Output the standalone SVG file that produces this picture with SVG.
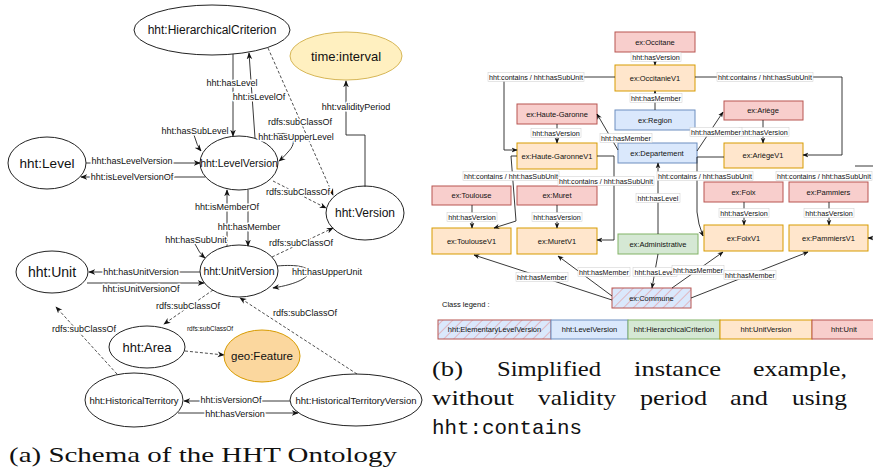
<svg xmlns="http://www.w3.org/2000/svg" width="873" height="472" viewBox="0 0 873 472">
<defs>
<style>
.ne{fill:#fff;stroke:#222;stroke-width:1}
.t{font-family:"Liberation Sans",Arial,sans-serif;text-anchor:middle;dominant-baseline:central;fill:#111}
.e{fill:none;stroke:#222;stroke-width:0.9}
.d{stroke-dasharray:3 2;stroke-width:0.8}
.al{font-size:9px;stroke:#fff;stroke-width:3;stroke-linejoin:round;paint-order:stroke}
.bl{font-size:7.2px}
.bn{font-size:7.5px}
.lb{fill:#fff;stroke:#cccccc;stroke-width:0.5}
.red{fill:#f8cecc;stroke:#b85450;stroke-width:1}
.org{fill:#ffe6cc;stroke:#d79b00;stroke-width:1}
.blu{fill:#dae8fc;stroke:#6c8ebf;stroke-width:1}
.grn{fill:#d5e8d4;stroke:#82b366;stroke-width:1}
.hat{fill:url(#hatch);stroke:#b85450;stroke-width:1}
.cap{font-family:"Liberation Serif","Times New Roman",serif;font-size:22px;fill:#111}
</style>
<marker id="arr" viewBox="0 0 10 10" refX="9" refY="5" markerWidth="7" markerHeight="7" orient="auto" markerUnits="userSpaceOnUse">
<path d="M0,1 L10,5 L0,9 L3,5 z" fill="#111"/>
</marker>
<marker id="arrs" viewBox="0 0 10 10" refX="9" refY="5" markerWidth="6" markerHeight="6" orient="auto" markerUnits="userSpaceOnUse">
<path d="M0,1 L10,5 L0,9 L3,5 z" fill="#111"/>
</marker>
<pattern id="hatch" patternUnits="userSpaceOnUse" width="7" height="7" patternTransform="rotate(45)">
<rect width="7" height="7" fill="#dae8fc"/>
<line x1="0" y1="0" x2="0" y2="7" stroke="#ea6b66" stroke-width="0.8"/>
</pattern>
</defs>
<rect width="873" height="472" fill="#fff"/>

<!-- (a) nodes -->
<g id="n-hc"><ellipse class="ne" cx="212" cy="30" rx="78" ry="25"/><text class="t" x="212" y="30" font-size="12">hht:HierarchicalCriterion</text></g>
<g id="n-time"><ellipse cx="346" cy="56" rx="56" ry="24" fill="#fff0c0" stroke="#d6b656"/><text class="t" x="346" y="56" font-size="13">time:interval</text></g>
<g id="n-level"><ellipse class="ne" cx="47" cy="163" rx="39" ry="26"/><text class="t" x="47" y="163" font-size="13.5">hht:Level</text></g>
<g id="n-lv"><ellipse class="ne" cx="239" cy="163" rx="39" ry="27"/><text class="t" x="239" y="163" font-size="10.5">hht:LevelVersion</text></g>
<g id="n-version"><ellipse class="ne" cx="365" cy="213" rx="39" ry="27"/><text class="t" x="365" y="213" font-size="12">hht:Version</text></g>
<g id="n-unit"><ellipse class="ne" cx="52" cy="272" rx="36" ry="21"/><text class="t" x="52" y="272" font-size="14">hht:Unit</text></g>
<g id="n-uv"><ellipse class="ne" cx="239" cy="271" rx="39" ry="26"/><text class="t" x="239" y="271" font-size="10.5">hht:UnitVersion</text></g>
<g id="n-area"><ellipse class="ne" cx="147" cy="347" rx="38" ry="21"/><text class="t" x="147" y="347" font-size="13">hht:Area</text></g>
<g id="n-geo"><ellipse cx="262" cy="356" rx="38" ry="26" fill="#fbd79e" stroke="#d79b00"/><text class="t" x="262" y="356" font-size="11.5">geo:Feature</text></g>
<g id="n-ht"><ellipse class="ne" cx="134" cy="400" rx="49" ry="27"/><text class="t" x="134" y="400" font-size="9.5">hht:HistoricalTerritory</text></g>
<g id="n-htv"><ellipse class="ne" cx="356" cy="400" rx="66" ry="26"/><text class="t" x="356" y="400" font-size="9.5">hht:HistoricalTerritoryVersion</text></g>

<!-- (b) nodes -->
<g id="b-occitane"><rect class="red" x="615" y="32" width="80" height="20"/><text class="t bn" x="655" y="42">ex:Occitane</text></g>
<g id="b-occitaniev1"><rect class="org" x="615" y="65" width="80" height="26"/><text class="t bn" x="655" y="78">ex:OccitanieV1</text></g>
<g id="b-region"><rect class="blu" x="615" y="110" width="80" height="20"/><text class="t bn" x="655" y="120">ex:Region</text></g>
<g id="b-departement"><rect class="blu" x="618" y="143" width="79" height="20"/><text class="t bn" x="657" y="153">ex:Departement</text></g>
<g id="b-hg"><rect class="red" x="517" y="104" width="80" height="20"/><text class="t bn" x="557" y="114">ex:Haute-Garonne</text></g>
<g id="b-hgv1"><rect class="org" x="517" y="143" width="80" height="26"/><text class="t bn" x="557" y="156">ex:Haute-GaronneV1</text></g>
<g id="b-ariege"><rect class="red" x="724" y="101" width="79" height="19"/><text class="t bn" x="763" y="110.5">ex:Ariège</text></g>
<g id="b-ariegev1"><rect class="org" x="724" y="143" width="79" height="25"/><text class="t bn" x="763" y="155.5">ex:AriègeV1</text></g>
<g id="b-toulouse"><rect class="red" x="432" y="186" width="79" height="19"/><text class="t bn" x="471.5" y="195.5">ex:Toulouse</text></g>
<g id="b-toulousev1"><rect class="org" x="432" y="228" width="79" height="26"/><text class="t bn" x="471.5" y="241">ex:ToulouseV1</text></g>
<g id="b-muret"><rect class="red" x="517" y="186" width="80" height="19"/><text class="t bn" x="557" y="195.5">ex:Muret</text></g>
<g id="b-muretv1"><rect class="org" x="517" y="228" width="80" height="26"/><text class="t bn" x="557" y="241">ex:MuretV1</text></g>
<g id="b-admin"><rect class="grn" x="618" y="234" width="80" height="20"/><text class="t bn" x="658" y="244">ex:Administrative</text></g>
<g id="b-foix"><rect class="red" x="704" y="182" width="79" height="20"/><text class="t bn" x="743.5" y="192">ex:Foix</text></g>
<g id="b-foixv1"><rect class="org" x="704" y="225" width="79" height="26"/><text class="t bn" x="743.5" y="238">ex:FoixV1</text></g>
<g id="b-pammiers"><rect class="red" x="789" y="182" width="79" height="20"/><text class="t bn" x="828.5" y="192">ex:Pammiers</text></g>
<g id="b-pammiersv1"><rect class="org" x="789" y="225" width="79" height="26"/><text class="t bn" x="828.5" y="238">ex:PammiersV1</text></g>
<g id="b-commune"><rect class="hat" x="612" y="288" width="79" height="20"/><text class="t bn" x="651.5" y="298">ex:Commune</text></g>

<!-- connectors -->
<g id="connectors">
<!-- (a) -->
<path class="e" d="M86 163 L200 163" marker-end="url(#arr)"/>
<path class="e" d="M205 177 L81 177" marker-end="url(#arr)"/>
<path class="e" d="M233 54 L233 136" marker-end="url(#arr)"/>
<path class="e" d="M255 138 L249 53" marker-end="url(#arr)"/>
<path class="e d" d="M268 48 L333 195" marker-end="url(#arr)"/>
<path class="e" d="M264 138 C292 126 300 140 288 152 Q284 157 279 161" marker-end="url(#arr)"/>
<path class="e" d="M194 135 Q197 146 201 151" marker-end="url(#arr)"/>
<path class="e d" d="M273 181 L326 208" marker-end="url(#arr)"/>
<path class="e" d="M248 190 L248 246" marker-end="url(#arr)"/>
<path class="e" d="M227 246 L227 190" marker-end="url(#arr)"/>
<path class="e" d="M195 244 Q199 253 205 258" marker-end="url(#arr)"/>
<path class="e d" d="M272 257 L333 228" marker-end="url(#arr)"/>
<path class="e" d="M277 266 C322 262 318 281 273 288" marker-end="url(#arr)"/>
<path class="e" d="M200 272 L89 272" marker-end="url(#arr)"/>
<path class="e" d="M87 283 L204 283" marker-end="url(#arr)"/>
<path class="e d" d="M213 290 L164 324" marker-end="url(#arr)"/>
<path class="e d" d="M185 351 L224 355" marker-end="url(#arr)"/>
<path class="e d" d="M117 374 L56 307" marker-end="url(#arr)"/>
<path class="e d" d="M357 374 L240 298" marker-end="url(#arr)"/>
<path class="e" d="M290 401 L184 401" marker-end="url(#arr)"/>
<path class="e" d="M178 413 L298 413" marker-end="url(#arr)"/>
<path class="e" d="M365 187 L365 135 L346 135 L346 81" marker-end="url(#arr)"/>
<g class="t al">
<text x="132" y="161">hht:hasLevelVersion</text>
<text x="132" y="177">hht:isLevelVersionOf</text>
<text x="232" y="83">hht:hasLevel</text>
<text x="259" y="97">hht:isLevelOf</text>
<text x="300" y="122">rdfs:subClassOf</text>
<text x="296" y="137">hht:hasUpperLevel</text>
<text x="195" y="131">hht:hasSubLevel</text>
<text x="298" y="192">rdfs:subClassOf</text>
<text x="227" y="207">hht:isMemberOf</text>
<text x="249" y="227">hht:hasMember</text>
<text x="196" y="240">hht:hasSubUnit</text>
<text x="301" y="243">rdfs:subClassOf</text>
<text x="327" y="272">hht:hasUpperUnit</text>
<text x="141" y="272">hht:hasUnitVersion</text>
<text x="141" y="289">hht:isUnitVersionOf</text>
<text x="188" y="306">rdfs:subClassOf</text>
<text x="210" y="328" font-size="6.5">rdfs:subClassOf</text>
<text x="84" y="329">rdfs:subClassOf</text>
<text x="305" y="313">rdfs:subClassOf</text>
<text x="231" y="400">hht:isVersionOf</text>
<text x="235" y="414">hht:hasVersion</text>
<text x="356" y="107">hht:validityPeriod</text>
</g>
<!-- (b) -->
<path class="e" d="M655 52 L655 65" marker-end="url(#arrs)"/>
<path class="e" d="M655 110 L655 91" marker-end="url(#arrs)"/>
<path class="e" d="M618 150 L597 114" marker-end="url(#arrs)"/>
<path class="e" d="M697 151 L723 112" marker-end="url(#arrs)"/>
<path class="e" d="M763 120 L763 143" marker-end="url(#arrs)"/>
<path class="e" d="M695 77 L842 77 L842 155 L803 155" marker-end="url(#arrs)"/>
<path class="e" d="M615 77 L504 77 L504 150 L517 150" marker-end="url(#arrs)"/>
<path class="e" d="M557 124 L557 143" marker-end="url(#arrs)"/>
<path class="e" d="M517 156 L511 156 L516 221 L494 228" marker-end="url(#arrs)"/>
<path class="e" d="M597 156 L614 156 L614 240 L597 240" marker-end="url(#arrs)"/>
<path class="e" d="M472 205 L472 228" marker-end="url(#arrs)"/>
<path class="e" d="M557 205 L557 228" marker-end="url(#arrs)"/>
<path class="e" d="M658 234 L658 163" marker-end="url(#arrs)"/>
<path class="e" d="M724 157 L697 157 L697 212 Q698 224 703 236" marker-end="url(#arrs)"/>
<path class="e" d="M744 202 L744 225" marker-end="url(#arrs)"/>
<path class="e" d="M829 202 L829 225" marker-end="url(#arrs)"/>
<path class="e" d="M855 166 L873 166"/>
<path class="e" d="M880 238 L868 238" marker-end="url(#arrs)"/>
<path class="e" d="M658 254 L652 288" marker-end="url(#arrs)"/>
<path class="e" d="M672 288 L723 252" marker-end="url(#arrs)"/>
<path class="e" d="M691 298 L808 252" marker-end="url(#arrs)"/>
<path class="e" d="M612 296 L558 256" marker-end="url(#arrs)"/>
<path class="e" d="M612 300 L474 255" marker-end="url(#arrs)"/>
<g id="blabels">
<rect class="lb" x="631" y="52.5" width="50" height="9"/><text class="t bl" x="656" y="57">hht:hasVersion</text>
<rect class="lb" x="630" y="93.5" width="52" height="9"/><text class="t bl" x="656" y="98">hht:hasMember</text>
<rect class="lb" x="600" y="133.5" width="52" height="9"/><text class="t bl" x="626" y="138">hht:hasMember</text>
<rect class="lb" x="739" y="127.5" width="50" height="9"/><text class="t bl" x="764" y="132">hht:hasVersion</text>
<rect class="lb" x="690" y="127.5" width="52" height="9"/><text class="t bl" x="716" y="132">hht:hasMember</text>
<rect class="lb" x="717" y="72.5" width="96" height="9"/><text class="t bl" x="765" y="77">hht:contains / hht:hasSubUnit</text>
<rect class="lb" x="488" y="72.5" width="96" height="9"/><text class="t bl" x="536" y="77">hht:contains / hht:hasSubUnit</text>
<rect class="lb" x="531" y="128.5" width="50" height="9"/><text class="t bl" x="556" y="133">hht:hasVersion</text>
<rect class="lb" x="463" y="171.5" width="96" height="9"/><text class="t bl" x="511" y="176">hht:contains / hht:hasSubUnit</text>
<rect class="lb" x="558" y="176.5" width="96" height="9"/><text class="t bl" x="606" y="181">hht:contains / hht:hasSubUnit</text>
<rect class="lb" x="447" y="212.5" width="50" height="9"/><text class="t bl" x="472" y="217">hht:hasVersion</text>
<rect class="lb" x="532" y="212.5" width="50" height="9"/><text class="t bl" x="557" y="217">hht:hasVersion</text>
<rect class="lb" x="636" y="193.5" width="44" height="9"/><text class="t bl" x="658" y="198">hht:hasLevel</text>
<rect class="lb" x="657" y="171.5" width="96" height="9"/><text class="t bl" x="705" y="176">hht:contains / hht:hasSubUnit</text>
<rect class="lb" x="776" y="171.5" width="96" height="9"/><text class="t bl" x="824" y="176">hht:contains / hht:hasSubUnit</text>
<rect class="lb" x="719" y="208.5" width="50" height="9"/><text class="t bl" x="744" y="213">hht:hasVersion</text>
<rect class="lb" x="804" y="208.5" width="50" height="9"/><text class="t bl" x="829" y="213">hht:hasVersion</text>
<rect class="lb" x="633" y="267.5" width="44" height="9"/><text class="t bl" x="655" y="272">hht:hasLevel</text>
<rect class="lb" x="672" y="265.5" width="52" height="9"/><text class="t bl" x="698" y="270">hht:hasMember</text>
<rect class="lb" x="724" y="270.5" width="52" height="9"/><text class="t bl" x="750" y="275">hht:hasMember</text>
<rect class="lb" x="578" y="267.5" width="52" height="9"/><text class="t bl" x="604" y="272">hht:hasMember</text>
<rect class="lb" x="516" y="272.5" width="52" height="9"/><text class="t bl" x="542" y="277">hht:hasMember</text>
</g>
</g>

<!-- legend -->
<g id="legend">
<text class="t bn" x="442" y="304" style="text-anchor:start">Class legend :</text>
<rect class="hat" x="438" y="320" width="113" height="19"/><text class="t bn" x="494.5" y="329.5">hht:ElementaryLevelVersion</text>
<rect class="blu" x="551" y="320" width="77" height="19"/><text class="t bn" x="589.5" y="329.5">hht:LevelVersion</text>
<rect class="grn" x="628" y="320" width="92" height="19"/><text class="t bn" x="674" y="329.5">hht:HierarchicalCriterion</text>
<rect class="org" x="720" y="320" width="92" height="19"/><text class="t bn" x="766" y="329.5">hht:UnitVersion</text>
<rect class="red" x="812" y="320" width="66" height="19"/><text class="t bn" x="844" y="329.5">hht:Unit</text>
</g>

<!-- captions -->
<g id="captions">
<text class="cap" x="9" y="462" textLength="388" lengthAdjust="spacingAndGlyphs">(a) Schema of the HHT Ontology</text>
<text class="cap" x="432" y="376" textLength="31" lengthAdjust="spacingAndGlyphs">(b)</text>
<text class="cap" x="497" y="376" textLength="104" lengthAdjust="spacingAndGlyphs">Simplified</text>
<text class="cap" x="634" y="376" textLength="87" lengthAdjust="spacingAndGlyphs">instance</text>
<text class="cap" x="753" y="376" textLength="94" lengthAdjust="spacingAndGlyphs">example,</text>
<text class="cap" x="432" y="405" textLength="82" lengthAdjust="spacingAndGlyphs">without</text>
<text class="cap" x="538" y="405" textLength="78" lengthAdjust="spacingAndGlyphs">validity</text>
<text class="cap" x="640" y="405" textLength="67" lengthAdjust="spacingAndGlyphs">period</text>
<text class="cap" x="730" y="405" textLength="38" lengthAdjust="spacingAndGlyphs">and</text>
<text class="cap" x="792" y="405" textLength="55" lengthAdjust="spacingAndGlyphs">using</text>
<text x="432" y="434" font-family="'Liberation Mono','Courier New',monospace" font-size="21" fill="#111" textLength="150" lengthAdjust="spacingAndGlyphs">hht:contains</text>
</g>
</svg>
